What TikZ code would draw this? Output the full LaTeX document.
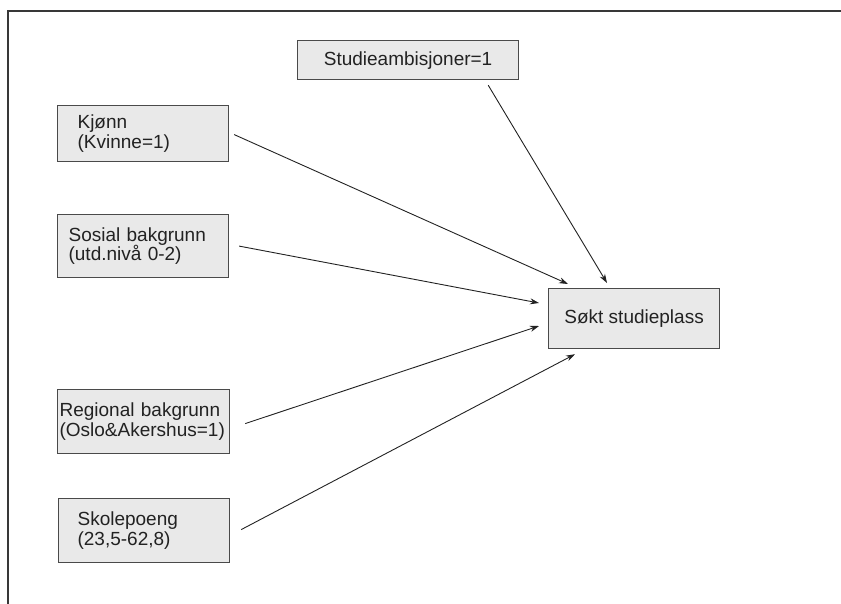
\documentclass[tikz,border=0pt]{standalone}
\usepackage{fontspec}
\setmainfont{Liberation Sans}
\usetikzlibrary{arrows.meta,calc}
\definecolor{boxfill}{HTML}{E9E9E9}
\definecolor{boxline}{HTML}{4A4A4A}
\definecolor{ink}{HTML}{222222}
\tikzset{
  varbox/.style={draw=boxline, line width=1.2pt, fill=boxfill, align=left,
    font=\fontsize{19}{19.5}\selectfont, text=ink, inner ysep=0pt, anchor=north west},
  effect/.style={draw=ink, line width=0.9pt, -{Stealth[length=9pt,width=6pt]}},
  frameline/.style={draw=ink!90, line width=2pt}
}
\begin{document}
\begin{tikzpicture}[x=1pt,y=-1pt]
  \useasboundingbox (0,0) rectangle (841,604);
  % page frame (top and left edges)
  \coordinate (ftr) at (842,11);
  \coordinate (ftl) at (8,11);
  \coordinate (fbl) at (8,605);
  \draw[frameline] (ftr) -- (ftl) -- (fbl);

  % explanatory variables
  \node[varbox, minimum width=221pt, minimum height=39pt, align=center] (amb) at (297,40) {Studieambisjoner=1};
  \node[varbox, inner xsep=20pt, text width=131pt, minimum height=56pt] (kjonn) at (57,105) {Kjønn\\(Kvinne=1)};
  \node[varbox, inner xsep=11pt, text width=149pt, minimum height=63pt] (sosial) at (57,214) {Sosial bakgrunn\\(utd.nivå 0-2)};
  \node[varbox, inner xsep=2pt, text width=168pt, minimum height=64pt] (region) at (57,389) {Regional bakgrunn\\(Oslo\&Akershus=1)};
  \node[varbox, inner xsep=19pt, text width=133pt, minimum height=64pt] (skole) at (58,498) {Skolepoeng\\(23,5-62,8)};

  % outcome
  \node[varbox, minimum width=171pt, minimum height=60pt, align=center] (sokt) at (548,288) {Søkt studieplass};

  % effects on the outcome
  \draw[effect] ($(amb.south east)+(-31,5)$) -- ($(sokt.north west)+(59,-5)$);
  \draw[effect] ($(kjonn.east)+(5,1)$) -- ($(sokt.north west)+(20,-4)$);
  \draw[effect] ($(sosial.east)+(10,0)$) -- ($(sokt.north west)+(-9,15)$);
  \draw[effect] ($(region.east)+(15,2)$) -- ($(sokt.north west)+(-9,38)$);
  \draw[effect] ($(skole.east)+(11,-1)$) -- ($(sokt.south west)+(27,5)$);
\end{tikzpicture}
\end{document}
